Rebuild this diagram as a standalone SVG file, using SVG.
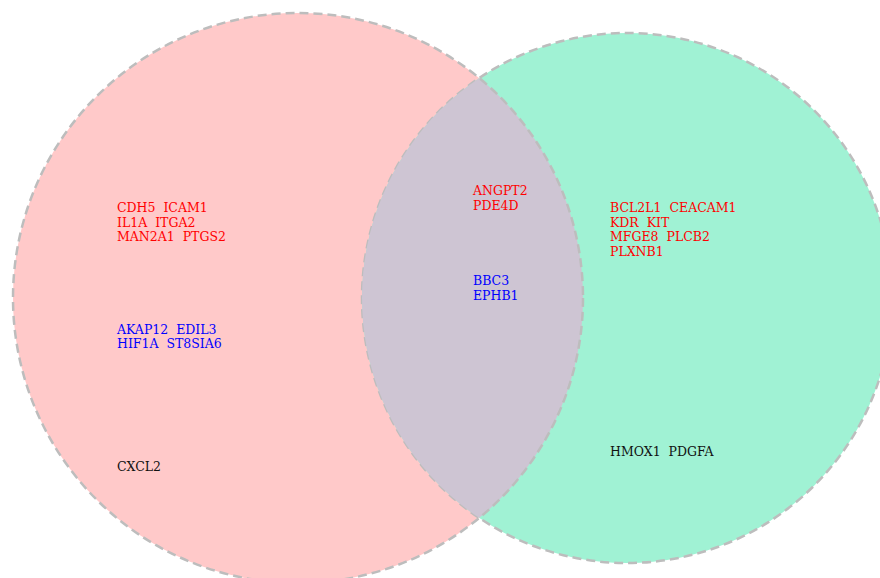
<svg xmlns="http://www.w3.org/2000/svg" width="880" height="578" viewBox="0 0 880 578">
<style>
.set{stroke:#bdbdbd;stroke-width:2.5;stroke-dasharray:9 5}
text{font-family:"DejaVu Serif","Liberation Serif",serif;font-size:12.5px;white-space:pre}
.r{fill:#ff0000}.b{fill:#0000ff}.k{fill:#111111}
</style>
<defs>
<clipPath id="clipL"><circle cx="298" cy="298" r="285"/></clipPath>
</defs>
<rect width="880" height="578" fill="#ffffff"/>
<g id="setA"><circle class="set" cx="298" cy="298" r="285" fill="#ffc9c9"/></g>
<g id="setB"><circle class="set" cx="627" cy="298" r="265" fill="#a0f2d4"/></g>
<g id="overlap"><circle cx="627" cy="298" r="265" fill="#cec5d3" clip-path="url(#clipL)"/>
<circle cx="298" cy="298" r="285" fill="none" class="set" clip-path="url(#clipR)"/></g>
<defs><clipPath id="clipR"><circle cx="627" cy="298" r="265"/></clipPath></defs>
<g id="labelsA">
<text class="r" x="117" y="212">CDH5  ICAM1</text>
<text class="r" x="117" y="226.5">IL1A  ITGA2</text>
<text class="r" x="117" y="241">MAN2A1  PTGS2</text>
<text class="b" x="117" y="333.5">AKAP12  EDIL3</text>
<text class="b" x="117" y="348">HIF1A  ST8SIA6</text>
<text class="k" x="117" y="471">CXCL2</text>
</g>
<g id="labelsAB">
<text class="r" x="473" y="195">ANGPT2</text>
<text class="r" x="473" y="209.5">PDE4D</text>
<text class="b" x="473" y="285">BBC3</text>
<text class="b" x="473" y="299.5">EPHB1</text>
</g>
<g id="labelsB">
<text class="r" x="610" y="212">BCL2L1  CEACAM1</text>
<text class="r" x="610" y="226.5">KDR  KIT</text>
<text class="r" x="610" y="241">MFGE8  PLCB2</text>
<text class="r" x="610" y="255.5">PLXNB1</text>
<text class="k" x="610" y="455.5">HMOX1  PDGFA</text>
</g>
<g id="connectors"/>
</svg>
